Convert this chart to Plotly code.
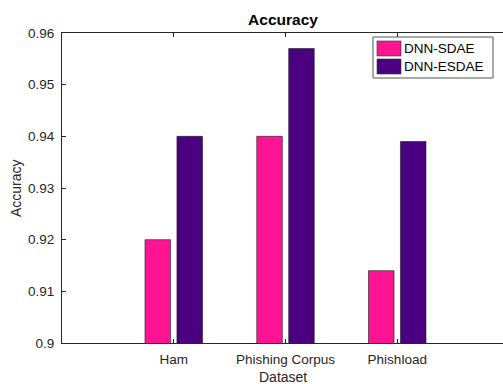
import plotly.graph_objects as go

categories = ["Ham", "Phishing Corpus", "Phishload"]
series_names = ["DNN-SDAE", "DNN-ESDAE"]
sdae = [0.920, 0.940, 0.914]
esdae = [0.940, 0.957, 0.939]
colors = ["#FF1493", "#4B0082"]
y_ticks = [0.90, 0.91, 0.92, 0.93, 0.94, 0.95, 0.96]
y_tick_text = ["0.9", "0.91", "0.92", "0.93", "0.94", "0.95", "0.96"]

# figure is slightly wider than the 503px window; the right edge is cropped like the reference
W, H = 509, 384
L, R, T, B = 62, 0, 33, 41
pw, ph = W - L - R, H - T - B

xpos = [1, 2, 3]
bw = 0.2286
off = 0.1429
FONT = "Liberation Sans, Arial, sans-serif"
AX = "#262626"

fig = go.Figure()
for vals, name, col, sgn in [(sdae, series_names[0], colors[0], -1), (esdae, series_names[1], colors[1], 1)]:
    fig.add_trace(go.Bar(
        x=xpos, y=vals, name=name, width=bw, offset=sgn * off - bw / 2,
        marker=dict(color=col, line=dict(color="#1a1a1a", width=0.6)),
        base=0, showlegend=False, hoverinfo="skip",
    ))

fig.update_layout(
    width=W, height=H, autosize=False,
    margin=dict(l=L, r=R, t=T, b=B, pad=0),
    paper_bgcolor="white", plot_bgcolor="white",
    font=dict(family=FONT, size=13.5, color=AX),
    title=dict(text="<b>Accuracy</b>", x=283 / W, xref="container", xanchor="center",
               y=1 - 20 / H, yref="container", yanchor="middle",
               font=dict(size=15.5, color="black", family=FONT)),
    bargap=0,
)
fig.update_xaxes(
    range=[0, 4], tickvals=[0] + xpos + [4], ticktext=[""] + categories + [""],
    showline=True, linecolor=AX, linewidth=1, mirror="ticks",
    ticks="inside", ticklen=4, tickcolor=AX, showgrid=False, zeroline=False,
    tickfont=dict(size=13.5, color=AX, family=FONT), ticklabelstandoff=4,
)
fig.update_yaxes(
    range=[0.9, 0.96], tickvals=y_ticks, ticktext=y_tick_text,
    showline=True, linecolor=AX, linewidth=1, mirror="ticks",
    ticks="inside", ticklen=4, tickcolor=AX, showgrid=False, zeroline=False,
    tickfont=dict(size=13.5, color=AX, family=FONT), ticklabelstandoff=4,
)

def px(xp):
    return (xp - L) / pw

def py(yp):
    return (H - B - yp) / ph

# axis titles
fig.add_annotation(text="Accuracy", xref="paper", yref="paper", x=px(16), y=0.5,
                   textangle=-90, showarrow=False, xanchor="center", yanchor="middle",
                   font=dict(size=14, color=AX, family=FONT))
fig.add_annotation(text="Dataset", xref="paper", yref="paper", x=px(283), y=py(377),
                   showarrow=False, xanchor="center", yanchor="middle",
                   font=dict(size=14, color=AX, family=FONT))

# legend box
fig.add_shape(type="rect", xref="paper", yref="paper", x0=px(373), x1=px(493), y0=py(78), y1=py(37),
              line=dict(color="#555555", width=1), fillcolor="white", layer="above")
for i, (name, col) in enumerate(zip(series_names, colors)):
    ytop = 41 + i * 18
    fig.add_shape(type="rect", xref="paper", yref="paper", x0=px(377), x1=px(401),
                  y0=py(ytop + 15), y1=py(ytop), line=dict(color="#333333", width=0.6),
                  fillcolor=col, layer="above")
    fig.add_annotation(text=name, xref="paper", yref="paper", x=px(402), y=py(ytop + 7.5),
                       showarrow=False, xanchor="left", yanchor="middle",
                       font=dict(size=13.5, color="black", family=FONT))

fig.write_html("out.html", config={"displayModeBar": False, "staticPlot": True},
               post_script="document.body.style.margin='0';document.body.style.overflow='hidden';")
